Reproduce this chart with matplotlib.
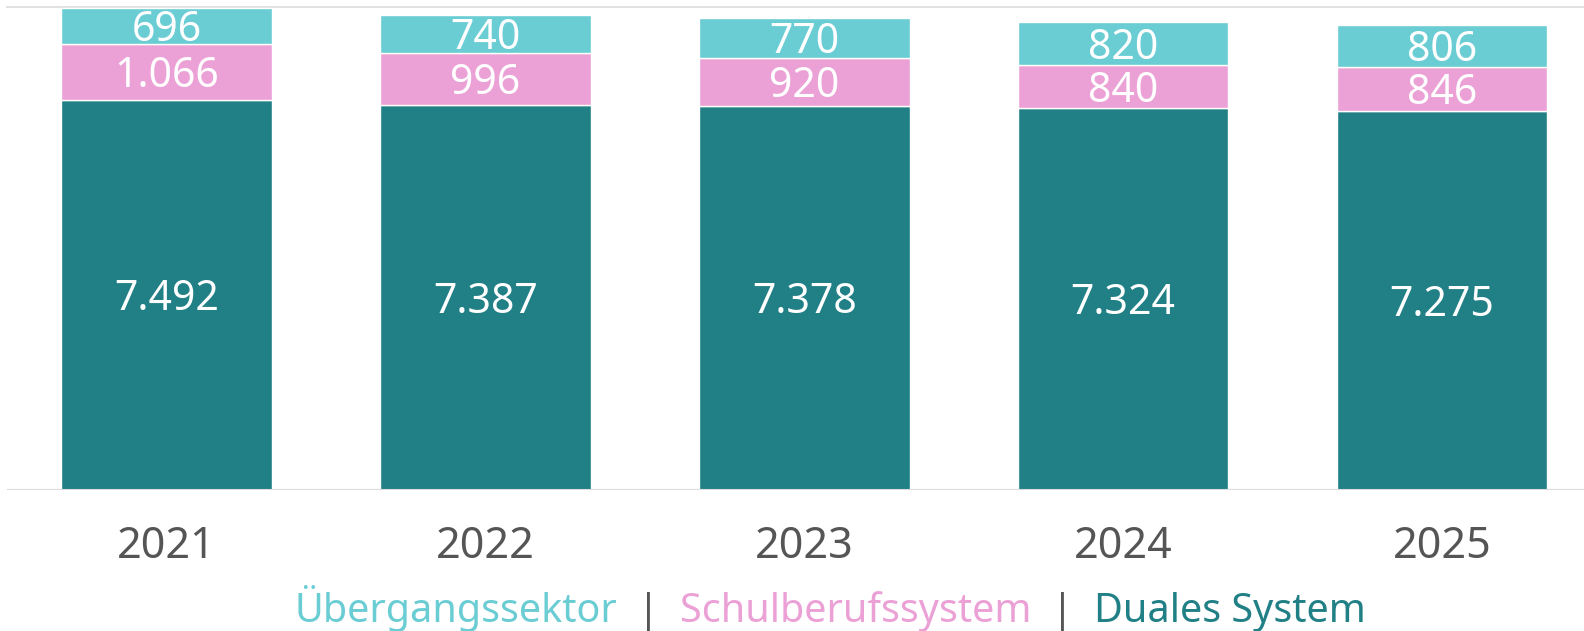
import matplotlib
matplotlib.use('Agg')
import matplotlib.pyplot as plt
from matplotlib.offsetbox import TextArea, HPacker, AnchoredOffsetbox

plt.rcParams['font.family'] = ['Noto Sans', 'DejaVu Sans']

years = ["2021", "2022", "2023", "2024", "2025"]
duales = [7492, 7387, 7378, 7324, 7275]
schul = [1066, 996, 920, 840, 846]
uebergang = [696, 740, 770, 820, 806]

c_duales = '#208086'
c_schul = '#EBA1D6'
c_ueber = '#6BCDD4'
grey = '#555555'

def fmt(v):
    return f"{v:,}".replace(",", ".")

fig = plt.figure(figsize=(15.84, 6.31), dpi=100)
ax = fig.add_axes([7 / 1584, 1 - 490 / 631, 1 - 7 / 1584, 483 / 631])

x = list(range(len(years)))
w = 0.66
bottom2 = duales
bottom3 = [a + b for a, b in zip(duales, schul)]

ax.bar(x, duales, w, color=c_duales, edgecolor='white', linewidth=1, zorder=3)
ax.bar(x, schul, w, bottom=bottom2, color=c_schul, edgecolor='white', linewidth=1, zorder=3)
ax.bar(x, uebergang, w, bottom=bottom3, color=c_ueber, edgecolor='white', linewidth=1, zorder=3)

# white value labels in the middle of each segment
for bots, vals in [([0] * 5, duales), (bottom2, schul), (bottom3, uebergang)]:
    for i, (b, v) in enumerate(zip(bots, vals)):
        ax.annotate(fmt(v), (i, b + v / 2), xytext=(0, -3), textcoords='offset points',
                    ha='center', va='center', color='white', fontsize=29.5, zorder=4)

ax.set_xlim(-0.5, 4.445)
ax.set_ylim(0, 9272)
ax.axhline(9272, color='#dcdcdc', linewidth=1.2, zorder=1, clip_on=False)
ax.axhline(0, color='#dcdcdc', linewidth=1.5, zorder=5)

for s in ax.spines.values():
    s.set_visible(False)
ax.set_yticks([])
ax.set_xticks(x)
ax.set_xticklabels(years, fontsize=31, color=grey)
ax.tick_params(axis='x', length=0, pad=25)

# legend in text form
parts = [("Übergangssektor", c_ueber), ("  |  ", grey),
         ("Schulberufssystem", c_schul), ("  |  ", grey),
         ("Duales System", c_duales)]
boxes = [TextArea(t, textprops=dict(color=c, fontsize=28.5)) for t, c in parts]
pack = HPacker(children=boxes, align='baseline', pad=0, sep=0)
anch = AnchoredOffsetbox(loc='center', child=pack, frameon=False,
                         bbox_to_anchor=(830 / 1584, 1 - 609 / 631),
                         bbox_transform=fig.transFigure, borderpad=0, pad=0)
fig.add_artist(anch)

fig.savefig("out.png", dpi=100)
